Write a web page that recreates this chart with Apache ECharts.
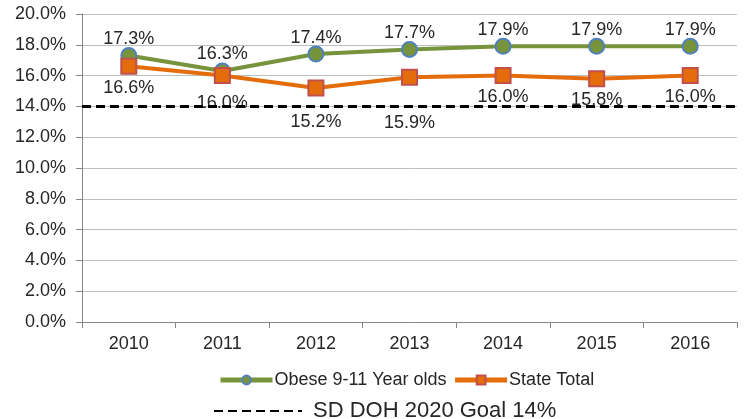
<!DOCTYPE html>
<html lang="en" style="height: 100%">
<head>
  <meta charset="utf-8">
</head>
<body style="height: 100%; margin: 0; background: #fff">
  <div id="container" style="width: 752px; height: 419px"></div>

  <script type="text/javascript" src="https://cdn.jsdelivr.net/npm/echarts@6/dist/echarts.min.js"></script>

  <script type="text/javascript">
    // data
    var years = ['2010', '2011', '2012', '2013', '2014', '2015', '2016'];
    var obese911 = [17.3, 16.3, 17.4, 17.7, 17.9, 17.9, 17.9];
    var stateTotal = [16.6, 16.0, 15.2, 15.9, 16.0, 15.8, 16.0];
    var goalValue = 14;

    var font = '"Liberation Sans", Arial, sans-serif';
    var textColor = '#262626';

    // a few State Total labels were pushed down below the goal line in the original
    var labelPush = { 1: 10, 2: 17, 3: 28 };
    var stateData = stateTotal.map(function (v, i) {
      if (labelPush[i] === undefined) return v;
      return { value: v, label: { distance: labelPush[i] } };
    });

    var pct = function (p) { return p.value.toFixed(1) + '%'; };

    var dom = document.getElementById('container');
    var myChart = echarts.init(dom, null, { renderer: 'canvas' });

    var option = {
      animation: false,
      textStyle: { fontFamily: font, color: textColor },
      grid: { left: 82, right: 15, top: 14, bottom: 97 },
      legend: [
        {
          data: ['Obese 9-11 Year olds', 'State Total'],
          left: 213,
          top: 366,
          itemWidth: 52,
          itemHeight: 11,
          itemGap: 6,
          lineStyle: { width: 5 },
          textStyle: { fontSize: 18, color: textColor, fontFamily: font, padding: [0, 0, 0, -3] }
        },
        {
          data: ['SD DOH 2020 Goal 14%'],
          left: 208,
          top: 395,
          itemWidth: 88,
          itemHeight: 12,
          itemStyle: { opacity: 0 },
          textStyle: { fontSize: 22, color: textColor, fontFamily: font, padding: [0, 0, 0, 6] }
        }
      ],
      xAxis: {
        type: 'category',
        data: years,
        axisLine: { lineStyle: { color: '#868686', width: 1 } },
        axisTick: { show: true, length: 6, lineStyle: { color: '#868686' } },
        axisLabel: { fontSize: 18, color: textColor, margin: 13 }
      },
      yAxis: {
        type: 'value',
        min: 0,
        max: 20,
        interval: 2,
        axisLine: { show: true, lineStyle: { color: '#868686', width: 1 } },
        axisTick: { show: true, length: 6, lineStyle: { color: '#868686' } },
        axisLabel: {
          fontSize: 18,
          color: textColor,
          margin: 16,
          formatter: function (v) { return v.toFixed(1) + '%'; }
        },
        splitLine: { lineStyle: { color: '#BFBFBF', width: 1 } }
      },
      series: [
        {
          name: 'SD DOH 2020 Goal 14%',
          type: 'line',
          data: [],
          symbol: 'none',
          itemStyle: { color: '#000' },
          lineStyle: { color: '#000', width: 3, type: [9, 5] },
          markLine: {
            silent: true,
            symbol: 'none',
            label: { show: false },
            lineStyle: { color: '#000', width: 3, type: [9, 5] },
            data: [{ yAxis: goalValue }]
          },
          z: 1
        },
        {
          name: 'Obese 9-11 Year olds',
          type: 'line',
          data: obese911,
          symbol: 'circle',
          symbolSize: 15,
          lineStyle: { color: '#77933C', width: 4 },
          itemStyle: { color: '#77933C', borderColor: '#4F81BD', borderWidth: 2 },
          label: {
            show: true,
            position: 'top',
            distance: -1,
            fontSize: 18,
            color: textColor,
            formatter: pct
          },
          z: 3
        },
        {
          name: 'State Total',
          type: 'line',
          data: stateData,
          symbol: 'rect',
          symbolSize: 15,
          lineStyle: { color: '#E46C0A', width: 4 },
          itemStyle: { color: '#E46C0A', borderColor: '#C0504D', borderWidth: 2 },
          label: {
            show: true,
            position: 'bottom',
            distance: 4,
            fontSize: 18,
            color: textColor,
            formatter: pct
          },
          z: 4
        }
      ]
    };

    myChart.setOption(option);
    window.addEventListener('resize', myChart.resize);
  </script>
</body>
</html>
